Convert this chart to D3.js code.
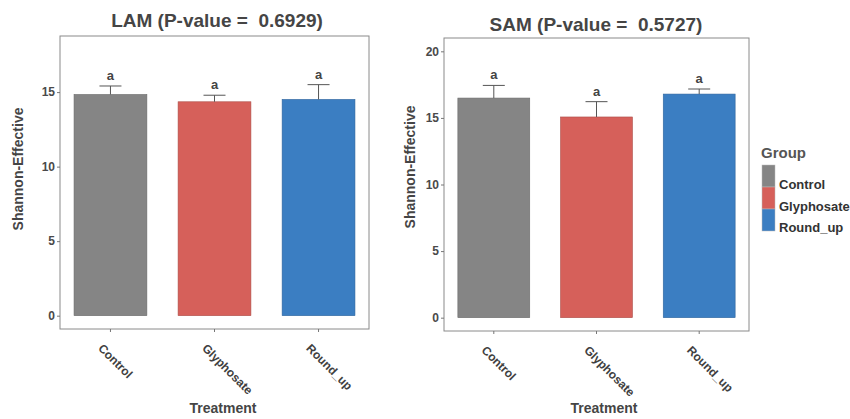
<!DOCTYPE html>
<html>
<head>
<meta charset="utf-8">
<script src="https://cdn.jsdelivr.net/npm/d3@7"></script>
<style>
  html, body { margin: 0; padding: 0; background: #ffffff; }
  svg { display: block; font-family: "Liberation Sans", Arial, sans-serif; }
  .keep-spaces { white-space: pre; }
</style>
</head>
<body>
<svg id="chart" width="850" height="419"></svg>
<script>
// Treatment groups and their fill colours
const categories = ["Control", "Glyphosate", "Round_up"];
const groupColors = ["#858585", "#d6605a", "#3b7ec2"];

// LAM: mean Shannon-Effective and standard deviation per treatment
const lamMeans = [14.84, 14.35, 14.51];
const lamSd = [0.57, 0.44, 0.99];
const lamLetters = ["a", "a", "a"];
const lamTicks = [0, 5, 10, 15];
const lamLimit = 17.87;

// SAM: mean Shannon-Effective and standard deviation per treatment
const samMeans = [16.49, 15.07, 16.79];
const samSd = [0.95, 1.15, 0.38];
const samLetters = ["a", "a", "a"];
const samTicks = [0, 5, 10, 15, 20];
const samLimit = 20;

const titles = ["LAM (P-value =  0.6929)", "SAM (P-value =  0.5727)"];
const yTitle = "Shannon-Effective";
const xTitle = "Treatment";
const legendTitle = "Group";

const svg = d3.select("#chart");

function panel(opts) {
  const { x0, x1, y0, y1, means, sd, letters, ticks, limit, title, titleX, titleY, yLabX, yLabY, xLabX, letterY } = opts;
  const g = svg.append("g");
  const pad = limit * 0.05;
  const y = d3.scaleLinear().domain([-pad, limit + pad]).range([y1, y0]);
  const x = d3.scaleBand().domain(categories).range([x0, x1])
    .paddingInner(0.3).paddingOuter(0.135);

  // panel border
  g.append("rect")
    .attr("x", x0).attr("y", y0)
    .attr("width", x1 - x0).attr("height", y1 - y0)
    .attr("fill", "none").attr("stroke", "#8a8a8a").attr("stroke-width", 1);

  // y axis
  const yAxis = g.append("g").attr("transform", `translate(${x0},0)`)
    .call(d3.axisLeft(y).tickValues(ticks).tickSize(3).tickPadding(2));
  yAxis.select(".domain").remove();
  yAxis.selectAll(".tick line").attr("stroke", "#777");
  yAxis.selectAll(".tick text")
    .attr("fill", "#4a4a4a").attr("font-size", 12).attr("font-weight", "bold")
    .attr("font-family", "Liberation Sans, Arial, sans-serif");

  // x axis
  const xAxis = g.append("g").attr("transform", `translate(0,${y1})`)
    .call(d3.axisBottom(x).tickSize(3).tickFormat(""));
  xAxis.select(".domain").remove();
  xAxis.selectAll(".tick line").attr("stroke", "#777");

  // rotated category labels
  g.selectAll("text.cat").data(categories).enter().append("text")
    .attr("class", "cat")
    .attr("transform", d => `translate(${x(d) + x.bandwidth() / 2 - 13},${y1 + 20}) rotate(45)`)
    .attr("text-anchor", "start")
    .attr("fill", "#404040").attr("font-size", 12).attr("font-weight", "bold")
    .text(d => d);

  // bars
  g.selectAll("rect.bar").data(categories).enter().append("rect")
    .attr("class", "bar")
    .attr("x", d => x(d))
    .attr("width", x.bandwidth())
    .attr("y", (d, i) => y(means[i]))
    .attr("height", (d, i) => y(0) - y(means[i]))
    .attr("fill", (d, i) => groupColors[i])
    .attr("stroke", (d, i) => d3.color(groupColors[i]).darker(0.6))
    .attr("stroke-width", 0.6);

  // upper error bars
  const cap = 11;
  categories.forEach((d, i) => {
    const cx = x(d) + x.bandwidth() / 2;
    g.append("line")
      .attr("x1", cx).attr("x2", cx)
      .attr("y1", y(means[i])).attr("y2", y(means[i] + sd[i]))
      .attr("stroke", "#555").attr("stroke-width", 1);
    g.append("line")
      .attr("x1", cx - cap).attr("x2", cx + cap)
      .attr("y1", y(means[i] + sd[i])).attr("y2", y(means[i] + sd[i]))
      .attr("stroke", "#555").attr("stroke-width", 1);
    // significance letter
    g.append("text")
      .attr("x", cx).attr("y", y(means[i] + sd[i]) - letterY)
      .attr("text-anchor", "middle")
      .attr("fill", "#444").attr("font-size", 13).attr("font-weight", "bold")
      .text(letters[i]);
  });

  // titles
  g.append("text")
    .attr("class", "keep-spaces")
    .attr("x", titleX).attr("y", titleY)
    .attr("text-anchor", "middle")
    .attr("fill", "#454545").attr("font-size", 19).attr("font-weight", "bold")
    .text(title);
  g.append("text")
    .attr("transform", `translate(${yLabX},${yLabY}) rotate(-90)`)
    .attr("text-anchor", "middle")
    .attr("fill", "#454545").attr("font-size", 14).attr("font-weight", "bold")
    .text(yTitle);
  g.append("text")
    .attr("x", xLabX).attr("y", 413)
    .attr("text-anchor", "middle")
    .attr("fill", "#454545").attr("font-size", 14).attr("font-weight", "bold")
    .text(xTitle);
}

panel({
  x0: 60, x1: 369, y0: 36, y1: 329,
  means: lamMeans, sd: lamSd, letters: lamLetters, ticks: lamTicks, limit: lamLimit,
  title: titles[0], titleX: 217, titleY: 27,
  yLabX: 23, yLabY: 169, xLabX: 223, letterY: 6
});

panel({
  x0: 444, x1: 749, y0: 38, y1: 331,
  means: samMeans, sd: samSd, letters: samLetters, ticks: samTicks, limit: samLimit,
  title: titles[1], titleX: 596, titleY: 31,
  yLabX: 415, yLabY: 167, xLabX: 604, letterY: 6
});

// legend
const legend = svg.append("g");
legend.append("text")
  .attr("x", 761).attr("y", 158)
  .attr("fill", "#555").attr("font-size", 15).attr("font-weight", "bold")
  .text(legendTitle);
categories.forEach((d, i) => {
  legend.append("rect")
    .attr("x", 762).attr("y", 165 + i * 22)
    .attr("width", 13).attr("height", 22)
    .attr("fill", groupColors[i])
    .attr("stroke", "#bbb").attr("stroke-width", 0.5);
  legend.append("text")
    .attr("x", 779).attr("y", 189 + i * 21.5)
    .attr("fill", "#333").attr("font-size", 13).attr("font-weight", "bold")
    .text(d);
});
</script>
</body>
</html>
